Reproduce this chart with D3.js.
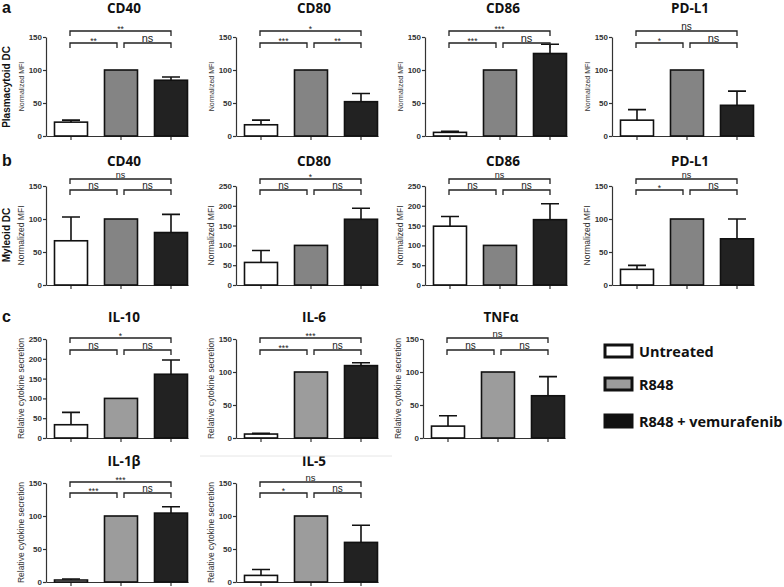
<!DOCTYPE html>
<html><head><meta charset="utf-8">
<script src="https://cdn.jsdelivr.net/npm/d3@7"></script>
<style>body{margin:0;background:#fff}svg{display:block}</style>
</head><body>
<svg id="fig" width="784" height="587"></svg>
<script>
// ---------------- DATA ----------------
const groups = ["Untreated", "R848", "R848 + vemurafenib"];

const pdcMarkers = ["CD40", "CD80", "CD86", "PD-L1"];
const pdcMeans   = [[21, 100, 84.5], [17, 100, 52], [5.5, 100, 125], [24, 100, 46.5]];
const pdcUpper   = [[24, 100, 89.5], [24, 100, 64.5], [7, 100, 139], [40, 100, 68]];
const pdcSig     = [["**", "ns", "**"], ["***", "**", "*"], ["***", "ns", "***"], ["*", "ns", "ns"]];
const pdcMax     = [150, 150, 150, 150];

const mdcMarkers = ["CD40", "CD80", "CD86", "PD-L1"];
const mdcMeans   = [[67, 100, 79.5], [57, 100, 166], [148.5, 100, 165], [23.7, 100, 70]];
const mdcUpper   = [[103, 100, 107], [87, 100, 194], [173, 100, 205], [29.7, 100, 100]];
const mdcSig     = [["ns", "ns", "ns"], ["ns", "ns", "*"], ["ns", "ns", "ns"], ["*", "ns", "ns"]];
const mdcMax     = [150, 250, 250, 150];

const cytMarkers = ["IL-10", "IL-6", "TNFα", "IL-1β", "IL-5"];
const cytMeans   = [[33.5, 100, 161], [6, 100, 109.7], [18, 100, 64], [3, 100, 104.4], [10, 100, 60]];
const cytUpper   = [[64.6, 100, 197], [7, 100, 114], [33.7, 100, 93], [4.5, 100, 114], [19, 100, 86]];
const cytSig     = [["ns", "ns", "*"], ["***", "ns", "***"], ["ns", "ns", "ns"], ["***", "ns", "***"], ["*", "ns", "ns"]];
const cytMax     = [250, 150, 150, 150, 150];

const tickStep = 50;
const rowLabels = ["Plasmacytoid DC", "Myleoid DC"];
const panelLetters = ["a", "b", "c"];
const yTitles = ["Normalized MFI", "Relative cytokine secretion"];

// ---------------- LAYOUT ----------------
const svg = d3.select("#fig");
const ARIAL = "'Liberation Sans', Arial, sans-serif";
const TITLEF = "'Open Sans', sans-serif";

function drawPanel(cfg) {
  const g = svg.append("g");
  const y = d3.scaleLinear().domain([0, cfg.max]).range([cfg.bottom, cfg.top]);
  const x = d3.scaleBand().domain(groups).range([cfg.ax, cfg.ax + 142])
    .paddingInner(0.34).paddingOuter(0.09).align(0.944);
  const c = groups.map(k => x(k) + x.bandwidth() / 2);
  const fills = ["#ffffff", cfg.gray, "#222222"];

  // title
  g.append("text").attr("x", cfg.ax + 78).attr("y", cfg.titleY)
    .attr("text-anchor", "middle").attr("font-family", TITLEF)
    .attr("font-weight", 700).attr("font-size", 13.5).attr("fill", "#111").text(cfg.title);

  // y axis
  const ya = g.append("g").attr("transform", `translate(${cfg.ax},0)`)
    .call(d3.axisLeft(y).tickValues(d3.range(0, cfg.max + 1, tickStep))
      .tickSize(3).tickSizeOuter(0).tickPadding(1));
  ya.selectAll("text").attr("font-family", ARIAL).attr("font-size", 8).attr("font-weight", 700).attr("fill", "#333");
  ya.selectAll("line,path").attr("stroke", "#333").attr("stroke-width", 1.2);

  // x axis
  const xa = g.append("g").attr("transform", `translate(0,${cfg.bottom})`)
    .call(d3.axisBottom(x).tickSize(4).tickSizeOuter(0).tickFormat(""));
  xa.selectAll("line,path").attr("stroke", "#333").attr("stroke-width", 1.2);

  // y title
  g.append("text").attr("transform", `translate(${cfg.ax - 22},${(cfg.top + cfg.bottom) / 2}) rotate(-90)`)
    .attr("text-anchor", "middle").attr("font-family", ARIAL).attr("font-size", cfg.yTitleSize)
    .attr("fill", "#333").text(cfg.yTitle);

  // bars
  g.selectAll("rect.bar").data(groups).enter().append("rect")
    .attr("x", d => x(d)).attr("width", x.bandwidth())
    .attr("y", (d, i) => y(cfg.means[i]))
    .attr("height", (d, i) => cfg.bottom - y(cfg.means[i]))
    .attr("fill", (d, i) => fills[i]).attr("stroke", "#111").attr("stroke-width", 1.6);

  // error bars (upper only)
  groups.forEach((d, i) => {
    if (cfg.upper[i] - cfg.means[i] < 0.5) return;
    const cx = c[i];
    g.append("path")
      .attr("d", `M${cx},${y(cfg.means[i])}V${y(cfg.upper[i])}M${cx - 9},${y(cfg.upper[i])}H${cx + 9}`)
      .attr("stroke", "#111").attr("stroke-width", 1.6).attr("fill", "none");
  });

  // significance brackets
  const br = [
    [c[0] - 1, c[1] - 4, cfg.lowerY, cfg.sig[0], cfg.nsSize],
    [c[1] + 3, c[2], cfg.lowerY, cfg.sig[1], cfg.nsSize],
    [c[0] - 1, c[2], cfg.upperY, cfg.sig[2], cfg.nsTopSize]
  ];
  br.forEach(([x1, x2, yl, lab, fs]) => {
    g.append("path").attr("d", `M${x1},${yl + 5}V${yl}H${x2}V${yl + 5}`)
      .attr("stroke", "#222").attr("stroke-width", 1.3).attr("fill", "none");
    const isNs = lab === "ns";
    g.append("text").attr("x", (x1 + x2) / 2).attr("y", isNs ? yl - 1.5 : yl + 1)
      .attr("text-anchor", "middle").attr("font-family", ARIAL)
      .attr("font-size", isNs ? fs : 8.5).attr("fill", "#222").text(lab);
  });
}

const rows = [
  { top: 37, bottom: 136, lowerY: 43, upperY: 31, titleY: 13, gray: "#848484", yTitleSize: 7, nsSize: 11, nsTopSize: 10 },
  { top: 186, bottom: 285, lowerY: 190, upperY: 179, titleY: 165.5, gray: "#848484", yTitleSize: 8.5, nsSize: 10, nsTopSize: 9 },
  { top: 339, bottom: 438, lowerY: 350, upperY: 338, titleY: 322, gray: "#9c9c9c", yTitleSize: 8.5, nsSize: 10, nsTopSize: 9.5 },
  { top: 483, bottom: 582, lowerY: 493, upperY: 482, titleY: 466, gray: "#9c9c9c", yTitleSize: 8.5, nsSize: 10, nsTopSize: 9.5 }
];
const colsAB = [46, 236, 425, 612];
const colsC = [46, 236, 423];

pdcMarkers.forEach((m, i) => drawPanel(Object.assign({}, rows[0], {
  ax: colsAB[i], max: pdcMax[i], title: m, means: pdcMeans[i], upper: pdcUpper[i], sig: pdcSig[i], yTitle: yTitles[0] })));
mdcMarkers.forEach((m, i) => drawPanel(Object.assign({}, rows[1], {
  ax: colsAB[i], max: mdcMax[i], title: m, means: mdcMeans[i], upper: mdcUpper[i], sig: mdcSig[i], yTitle: yTitles[0] })));
cytMarkers.forEach((m, i) => {
  const r = i < 3 ? rows[2] : rows[3];
  const ax = i < 3 ? colsC[i] : colsC[i - 3];
  drawPanel(Object.assign({}, r, {
    ax: ax, max: cytMax[i], title: m, means: cytMeans[i], upper: cytUpper[i], sig: cytSig[i], yTitle: yTitles[1] }));
});

// faint separator line above IL-5
svg.append("line").attr("x1", 200).attr("x2", 392).attr("y1", 456).attr("y2", 456)
  .attr("stroke", "#e6e6e6").attr("stroke-width", 1);

// panel letters
[[2, 13], [2, 166], [2, 322]].forEach(([px, py], i) => {
  svg.append("text").attr("x", px).attr("y", py).attr("font-family", ARIAL)
    .attr("font-weight", 700).attr("font-size", 16).attr("fill", "#111").text(panelLetters[i]);
});

// row labels
[87, 235].forEach((cy, i) => {
  svg.append("text").attr("transform", `translate(10,${cy}) rotate(-90)`)
    .attr("text-anchor", "middle").attr("font-family", ARIAL).attr("font-weight", 700)
    .attr("font-size", 10).attr("fill", "#111").text(rowLabels[i]);
});

// legend
const legFills = ["#ffffff", "#9c9c9c", "#111111"];
const legY = [351, 384, 421];
groups.forEach((gname, i) => {
  svg.append("rect").attr("x", 605).attr("y", legY[i] - 6).attr("width", 27).attr("height", 12)
    .attr("fill", legFills[i]).attr("stroke", "#111").attr("stroke-width", 3);
  svg.append("text").attr("x", 639).attr("y", legY[i] + 5.5).attr("font-family", TITLEF)
    .attr("font-weight", 700).attr("font-size", 14.5).attr("fill", "#111").text(gname);
});
</script>
</body></html>
